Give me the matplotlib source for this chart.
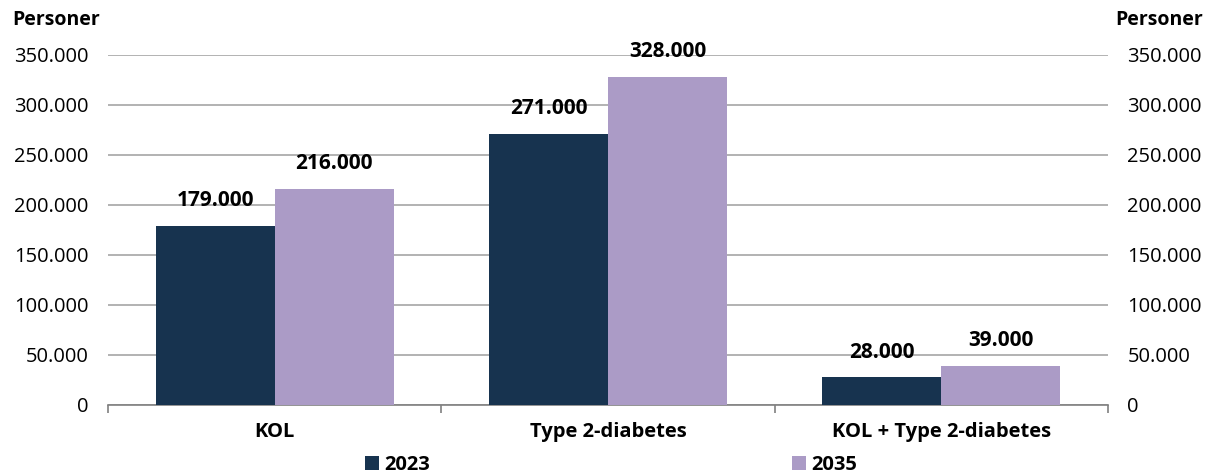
import matplotlib
matplotlib.use("Agg")
import matplotlib.pyplot as plt
import numpy as np
from matplotlib.ticker import FuncFormatter, FixedLocator

plt.rcParams['font.family'] = ['Open Sans', 'DejaVu Sans']

categories = ["KOL", "Type 2-diabetes", "KOL + Type 2-diabetes"]
series_names = ["2023", "2035"]
values_2023 = [179000, 271000, 28000]
values_2035 = [216000, 328000, 39000]
yticks = [0, 50000, 100000, 150000, 200000, 250000, 300000, 350000]

c2023 = "#17334f"
c2035 = "#ab9bc6"
grid_c = "#a6a6a6"
FS = 14.5

fig = plt.figure(figsize=(12.14, 4.76), dpi=100)
ax = fig.add_axes([108/1214, 1-405/476, 1000/1214, 350/476])

x = np.arange(len(categories))
w = 0.357
b1 = ax.bar(x - w/2, values_2023, width=w, color=c2023, label=series_names[0], zorder=3)
b2 = ax.bar(x + w/2, values_2035, width=w, color=c2035, label=series_names[1], zorder=3)

fmt = FuncFormatter(lambda v, p: f"{int(v):,}".replace(",", "."))
for bars, vals in ((b1, values_2023), (b2, values_2035)):
    for r, v in zip(bars, vals):
        ax.annotate(fmt(v), (r.get_x() + r.get_width()/2, v), xytext=(0, 18),
                    textcoords="offset points", ha="center", va="center",
                    fontsize=FS + 0.5, fontweight="bold", color="#000000", zorder=4)

ax.set_xlim(-0.5, len(categories) - 0.5)
ax.set_ylim(0, 350000)
ax.set_yticks(yticks)
ax.yaxis.set_major_formatter(fmt)
ax.grid(axis="y", color=grid_c, linewidth=1.2, zorder=0)
ax.tick_params(axis="y", length=0, pad=14, labelsize=FS, colors="#000000")
for s in ("left", "right", "top"):
    ax.spines[s].set_visible(False)
ax.spines["bottom"].set_color("#808080")
ax.spines["bottom"].set_linewidth(1.2)

ax.set_xticks(x)
ax.set_xticklabels(categories, fontsize=FS, fontweight="bold")
ax.tick_params(axis="x", which="major", length=0, pad=12)
ax.xaxis.set_minor_locator(FixedLocator(np.arange(len(categories) + 1) - 0.5))
ax.tick_params(axis="x", which="minor", length=6, width=1.2, color="#808080")

ax2 = ax.twinx()
ax2.set_ylim(ax.get_ylim())
ax2.set_yticks(yticks)
ax2.yaxis.set_major_formatter(fmt)
ax2.tick_params(axis="y", length=0, pad=14, labelsize=FS, colors="#000000")
for s in ax2.spines.values():
    s.set_visible(False)

fig.text(12/1214, 1-20/476, "Personer", ha="left", va="center", fontsize=14, fontweight="bold")
fig.text(1203/1214, 1-20/476, "Personer", ha="right", va="center", fontsize=14, fontweight="bold")

fig.legend(handles=[b1, b2], labels=series_names, loc="center", bbox_to_anchor=(611/1214, 1-465/476),
           ncol=2, frameon=False, handlelength=0.7, handleheight=0.7, handletextpad=0.25,
           columnspacing=18.0, prop={"size": FS, "weight": "bold"}, borderpad=0, borderaxespad=0)

fig.savefig("out.png", dpi=100)
